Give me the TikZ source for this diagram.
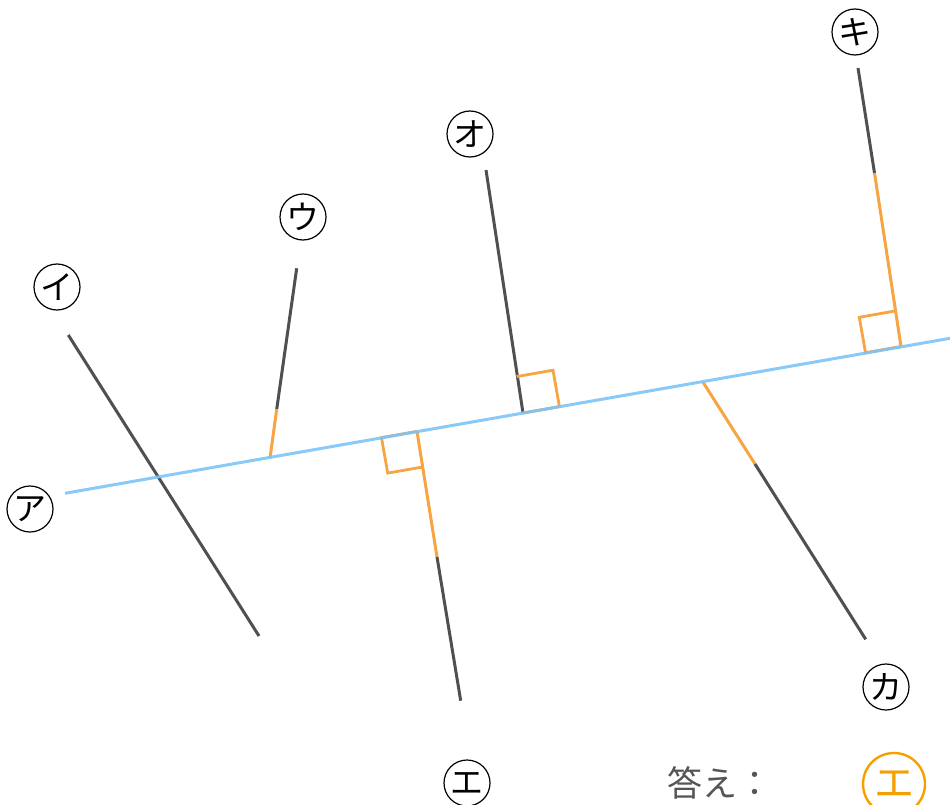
\documentclass[tikz,border=0pt]{standalone}
\usepackage{fontspec}
\newfontfamily\jpfont{Noto Sans CJK JP}
\definecolor{lineblue}{HTML}{7CC4F8}
\definecolor{lineorange}{HTML}{F7A443}
\definecolor{linegray}{HTML}{505050}
\definecolor{textgray}{HTML}{555555}
\definecolor{ansorange}{HTML}{F5A000}

\begin{document}
\begin{tikzpicture}[x=1pt,y=-1pt,
  kana/.style={circle,draw=black,line width=1.2pt,minimum size=46pt,inner sep=0pt,
    font=\jpfont\fontsize{33}{33}\selectfont},
  grayline/.style={linegray,line width=3pt},
  orangeline/.style={lineorange,line width=3pt},
  rightmark/.style={lineorange,line width=2.8pt,line join=miter}]
\useasboundingbox (0,0) rectangle (950,805);
% labels
\node[kana] (a) at (30,509) {ア};
\node[kana] (i) at (57,287) {イ};
\node[kana] (u) at (303,217) {ウ};
\node[kana] (e) at (467,783) {エ};
\node[kana] (o) at (470,134) {オ};
\node[kana] (ka) at (886,687) {カ};
\node[kana] (ki) at (855,32) {キ};
% end points
\coordinate (a1) at (65,493.3);
\coordinate (a2) at (950,338.3);
\coordinate (i1) at (68.3,335);
\coordinate (i2) at (259,636);
\coordinate (u1) at (296.7,268.3);
\coordinate (u2) at (276.7,409.3);
\coordinate (u3) at (270,458);
\coordinate (e1) at (417,431.4);
\coordinate (e2) at (437,557);
\coordinate (e3) at (460.7,700.7);
\coordinate (o1) at (486,170);
\coordinate (o2) at (523,413);
\coordinate (ka1) at (702.7,381.7);
\coordinate (ka2) at (755,464);
\coordinate (ka3) at (865.7,639.3);
\coordinate (ki1) at (858,68);
\coordinate (ki2) at (874.5,173);
\coordinate (ki3) at (901,346.5);
% lines
\draw[grayline] (i1) -- (i2);
\draw[grayline] (u1) -- (u2);
\draw[orangeline] (u2) -- (u3);
\draw[orangeline] (e1) -- (e2);
\draw[grayline] (e2) -- (e3);
\draw[grayline] (o1) -- (o2);
\draw[orangeline] (ka1) -- (ka2);
\draw[grayline] (ka2) -- (ka3);
\draw[grayline] (ki1) -- (ki2);
\draw[orangeline] (ki2) -- (ki3);
% right angle marks
\draw[rightmark] (o2) -- (559.4,406.6) -- (553,370.2) -- (516.6,376.6);
\draw[rightmark] (e1) -- (381.5,437.6) -- (387.7,473.1) -- (423.2,466.9);
\draw[rightmark] (ki3) -- (865.5,352.7) -- (859.3,317.3) -- (894.8,311);
\draw[lineblue,line width=3pt,opacity=0.9] (a1) -- (a2);
% answer
\node[textgray,font=\jpfont\fontsize{35}{35}\selectfont] (ans) at (720,783) {答え：};
\node[circle,draw=ansorange,line width=2.4pt,minimum size=62pt,inner sep=0pt,
  text=ansorange,font=\jpfont\fontsize{40}{40}\selectfont] (ansk) at (894,784) {エ};
\end{tikzpicture}
\end{document}
